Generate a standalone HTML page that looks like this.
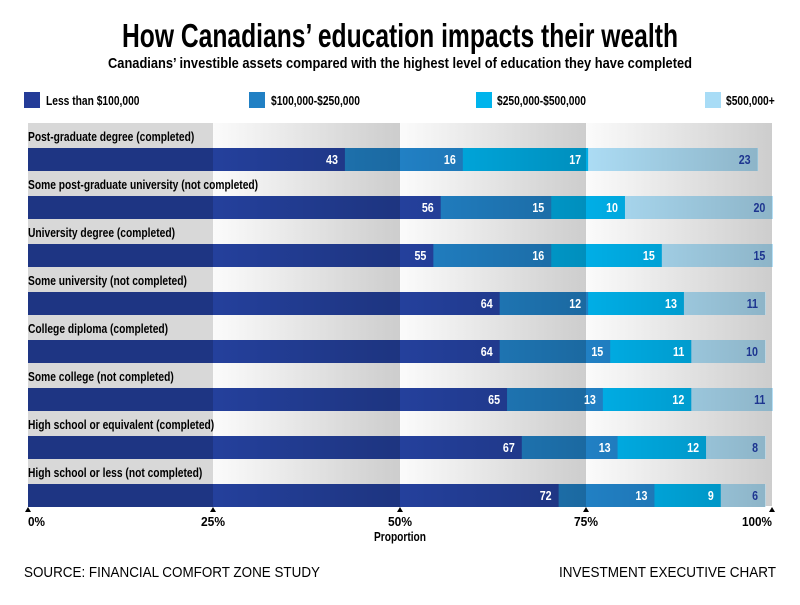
<!DOCTYPE html>
<html><head><meta charset="utf-8"><style>
body{margin:0;background:#fff}
svg text{font-family:"Liberation Sans Narrow","Liberation Sans",sans-serif;font-weight:bold}
</style></head><body>
<svg id="svg" width="800" height="600" viewBox="0 0 800 600" xmlns="http://www.w3.org/2000/svg">
<defs>
<linearGradient id="bg" x1="0" x2="1" y1="0" y2="0"><stop offset="0" stop-color="#fbfbfb"/><stop offset="1" stop-color="#cdcdcd"/></linearGradient>
<linearGradient id="ov" x1="0" x2="1" y1="0" y2="0"><stop offset="0" stop-color="#000" stop-opacity="0"/><stop offset="1" stop-color="#000" stop-opacity="0.18"/></linearGradient>
</defs>
<text x="400" y="47" font-size="33" text-anchor="middle" textLength="556" lengthAdjust="spacingAndGlyphs">How Canadians’ education impacts their wealth</text>
<text x="400" y="68" font-size="15" text-anchor="middle" textLength="584" lengthAdjust="spacingAndGlyphs">Canadians’ investible assets compared with the highest level of education they have completed</text>
<rect x="24" y="92" width="16" height="16" fill="#243c98"/>
<text class="c" x="46" y="105" font-size="12.5">Less than $100,000</text>
<rect x="249" y="92" width="16" height="16" fill="#2180c4"/>
<text class="c" x="271" y="105" font-size="12.5">$100,000-$250,000</text>
<rect x="476" y="92" width="16" height="16" fill="#00b4ec"/>
<text class="c" x="497" y="105" font-size="12.5">$250,000-$500,000</text>
<rect x="705" y="92" width="16" height="16" fill="#a8dcf6"/>
<text class="c" x="726" y="105" font-size="12.5">$500,000+</text>
<rect x="28" y="123" width="185" height="383" fill="#d8d8d8"/>
<rect x="213" y="123" width="187" height="383" fill="url(#bg)"/>
<rect x="400" y="123" width="186" height="383" fill="url(#bg)"/>
<rect x="586" y="123" width="186" height="383" fill="url(#bg)"/>
<g id="rows"></g>
<g fill="#000">
<polygon points="25,512 28,507 31,512"/><polygon points="210,512 213,507 216,512"/><polygon points="397,512 400,507 403,512"/><polygon points="583,512 586,507 589,512"/><polygon points="769,512 772,507 775,512"/>
</g>
<text x="28" y="526" font-size="12.5" textLength="17" lengthAdjust="spacingAndGlyphs">0%</text>
<text x="213" y="526" font-size="12.5" text-anchor="middle" textLength="24" lengthAdjust="spacingAndGlyphs">25%</text>
<text x="400" y="526" font-size="12.5" text-anchor="middle" textLength="24" lengthAdjust="spacingAndGlyphs">50%</text>
<text x="586" y="526" font-size="12.5" text-anchor="middle" textLength="24" lengthAdjust="spacingAndGlyphs">75%</text>
<text x="772" y="526" font-size="12.5" text-anchor="end" textLength="30" lengthAdjust="spacingAndGlyphs">100%</text>
<text x="400" y="541" font-size="12.5" text-anchor="middle" textLength="52" lengthAdjust="spacingAndGlyphs">Proportion</text>
<text x="24" y="577" font-size="14.5" style="font-weight:normal" textLength="296" lengthAdjust="spacingAndGlyphs">SOURCE: FINANCIAL COMFORT ZONE STUDY</text>
<text x="776" y="577" font-size="14.5" text-anchor="end" style="font-weight:normal" textLength="217" lengthAdjust="spacingAndGlyphs">INVESTMENT EXECUTIVE CHART</text>
</svg>
<script>
var labels=["Post-graduate degree (completed)","Some post-graduate university (not completed)","University degree (completed)","Some university (not completed)","College diploma (completed)","Some college (not completed)","High school or equivalent (completed)","High school or less (not completed)"];
var data=[[43,16,17,23],[56,15,10,20],[55,16,15,15],[64,12,13,11],[64,15,11,10],[65,13,12,11],[67,13,12,8],[72,13,9,6]];
var cols=["#24409c","#2180c4","#00aee6","#acdcf4"];
var tcol=["#fff","#fff","#fff","#1d3590"];
var s="";var k=7.37;
for(var i=0;i<8;i++){var y=148+48*i;
s+='<text class="c" x="28" y="'+(y-7)+'" font-size="12.5">'+labels[i]+'</text>';
var x=28;
for(var j=0;j<4;j++){var w=data[i][j]*k;
s+='<rect x="'+x+'" y="'+y+'" width="'+(w+0.5)+'" height="23" fill="'+cols[j]+'"/>';x+=w;}
var end=x;
var qs=[28,213,400,586,772];
for(var q=0;q<4;q++){var a=qs[q],b=Math.min(qs[q+1],end);if(b<=a)continue;
if(q==0)s+='<rect x="'+a+'" y="'+y+'" width="'+(b-a)+'" height="23" fill="#000" fill-opacity="0.16"/>';
else s+='<rect x="'+a+'" y="'+y+'" width="'+(b-a)+'" height="23" fill="url(#ov)"/>';}
x=28;
for(var j=0;j<4;j++){var w=data[i][j]*k;x+=w;
s+='<text class="c" x="'+(x-7)+'" y="'+(y+16)+'" font-size="13" text-anchor="end" fill="'+tcol[j]+'">'+data[i][j]+'</text>';}
}
document.getElementById("rows").innerHTML=s;
var ts=document.querySelectorAll("text.c");
for(var t=0;t<ts.length;t++){var L=ts[t].getComputedTextLength();
ts[t].setAttribute("textLength",(L*0.82).toFixed(1));ts[t].setAttribute("lengthAdjust","spacingAndGlyphs");}
</script>
</body></html>
